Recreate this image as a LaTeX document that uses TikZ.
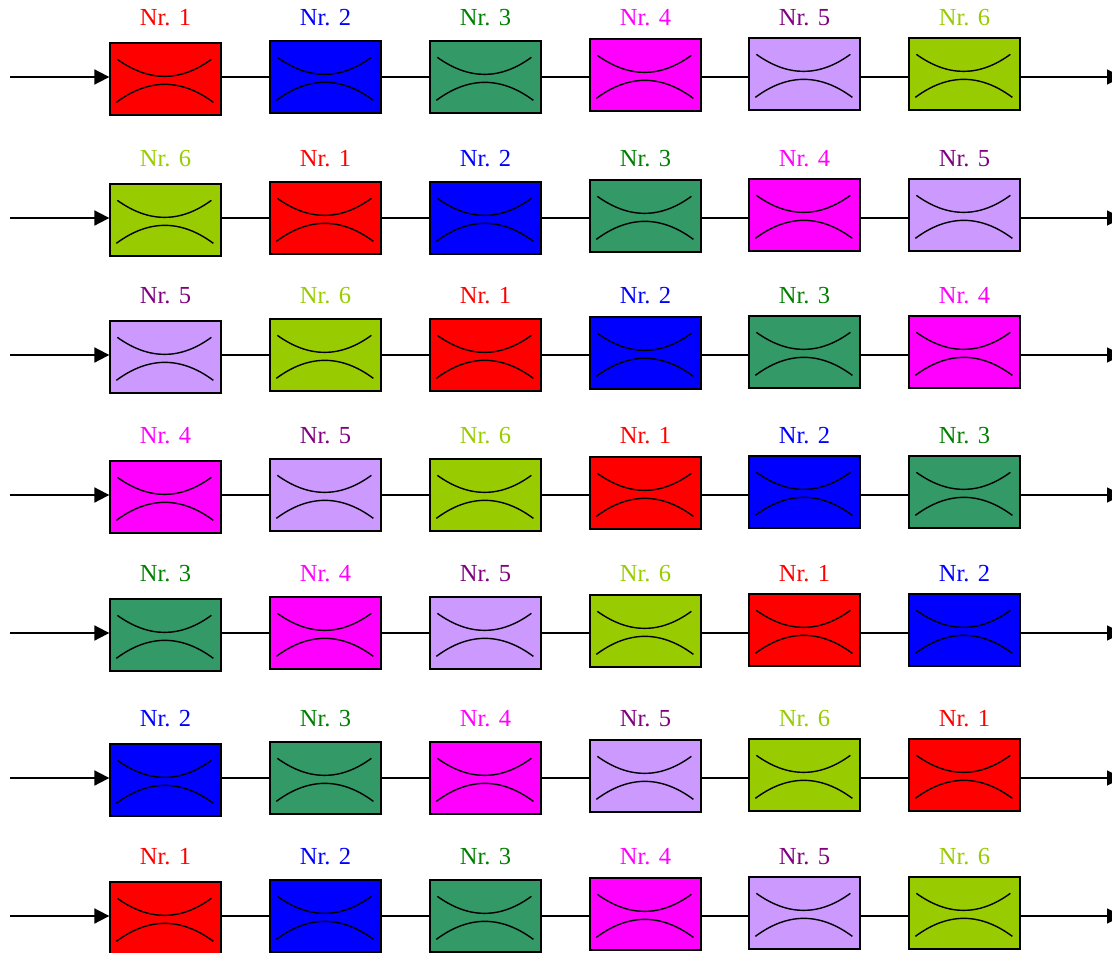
\documentclass[tikz,border=0pt]{standalone}
\usepackage{fontspec}
\setmainfont{Liberation Serif}
\usetikzlibrary{arrows.meta,calc}
\definecolor{c1}{HTML}{FF0000}
\definecolor{c2}{HTML}{0000FF}
\definecolor{c3}{HTML}{339966}
\definecolor{c4}{HTML}{FF00FF}
\definecolor{c5}{HTML}{CC99FF}
\definecolor{c6}{HTML}{99CC00}
\definecolor{t1}{HTML}{FF0000}
\definecolor{t2}{HTML}{0000FF}
\definecolor{t3}{HTML}{008000}
\definecolor{t4}{HTML}{FF00FF}
\definecolor{t5}{HTML}{800080}
\definecolor{t6}{HTML}{99CC00}
\begin{document}
\begin{tikzpicture}[x=1pt,y=-1pt,
  box/.style={draw=black, line width=1.3pt, minimum width=111pt, minimum height=72pt, inner sep=0pt},
  arcline/.style={line width=1.4pt},
  lab/.style={font=\fontsize{24.5}{27}\selectfont, inner sep=0pt},
  arr/.style={line width=1.8pt, -{Triangle[length=15pt,width=15pt]}},
  link/.style={line width=1.2pt}]
\useasboundingbox (0,0) rectangle (1112,953);
\clip (0,0) rectangle (1112,953);
\foreach \r/\base in {1/39,2/180,3/317,4/457,5/595,6/740,7/878} {
  \coordinate (in\r) at (10,\base+38);
  \coordinate (out\r) at (1122,\base+38);
  \foreach \c/\x/\dy in {1/110/4,2/270/2,3/430/2,4/590/0,5/749/-1,6/909/-1} {
    \pgfmathtruncatemacro{\n}{mod(\c-\r+12,6)+1}
    \node[box, fill=c\n] (b\r-\c) at (\x+55.5,\base+\dy+36) {};
    \draw[arcline] ($(b\r-\c.north west)+(8,17)$)
      .. controls ($(b\r-\c.north west)+(39.7,39.7)$) and ($(b\r-\c.north west)+(71,39.7)$)
      .. ($(b\r-\c.north west)+(102,17)$);
    \draw[arcline] ($(b\r-\c.north west)+(7,60)$)
      .. controls ($(b\r-\c.north west)+(39.3,36)$) and ($(b\r-\c.north west)+(71.7,36)$)
      .. ($(b\r-\c.north west)+(104,60)$);
    \node[lab, text=t\n] (l\r-\c) at (\x+55.5,\base-21) {Nr. \n};
  }
}
\foreach \r in {1,...,7} {
  \draw[arr] (in\r) -- (b\r-1.west |- in\r);
  \foreach \c [evaluate=\c as \d using int(\c+1)] in {1,...,5}
    \draw[link] (b\r-\c.east |- in\r) -- (b\r-\d.west |- in\r);
  \draw[arr] (b\r-6.east |- in\r) -- (out\r);
}
\end{tikzpicture}
\end{document}
